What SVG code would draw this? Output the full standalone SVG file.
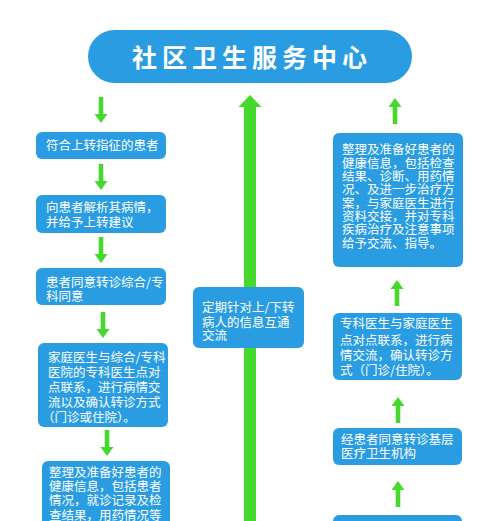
<svg xmlns="http://www.w3.org/2000/svg" width="500" height="521" viewBox="0 0 500 521">
<style>
.box{fill:#2a9de2}
.t{fill:#fff;font-family:"Noto Sans CJK SC","Noto Sans",sans-serif;font-size:12.5px}
.ttl{fill:#fff;font-family:"Noto Sans CJK SC","Noto Sans",sans-serif;font-size:25px;font-weight:bold;letter-spacing:5px}
.ar{fill:#45d92e}
</style>
<defs>
<path id="up" d="M0,0 L6.5,9 L2.3,9 L2.3,26 L-2.3,26 L-2.3,9 L-6.5,9 Z"/>
</defs>
<rect width="500" height="521" fill="#fff"/>
<g id="connectors" class="ar">
<use href="#up" transform="translate(101,123) rotate(180)"/>
<use href="#up" transform="translate(101,190) rotate(180)"/>
<use href="#up" transform="translate(101,263) rotate(180)"/>
<use href="#up" transform="translate(103,338) rotate(180)"/>
<use href="#up" transform="translate(107,456) rotate(180)"/>
<use href="#up" transform="translate(395,98)"/>
<use href="#up" transform="translate(397,280)"/>
<use href="#up" transform="translate(398,397)"/>
<use href="#up" transform="translate(398,481)"/>
<path d="M250,95 L261.5,107 L256,107 L256,521 L244,521 L244,107 L238.5,107 Z"/>
</g>
<g id="title">
<rect class="box" x="88" y="30" width="324" height="53" rx="26.5" fill="#2d9fe6"/>
<text class="ttl" x="252" y="67" text-anchor="middle">社区卫生服务中心</text>
</g>
<g id="l1">
<rect class="box" x="36" y="132" width="130" height="27" rx="6"/>
<text class="t" x="46" y="150">符合上转指征的患者</text>
</g>
<g id="l2">
<rect class="box" x="36" y="195" width="130" height="38" rx="6"/>
<text class="t" x="46" y="212">向患者解析其病情，</text>
<text class="t" x="46" y="227">并给予上转建议</text>
</g>
<g id="l3">
<rect class="box" x="36" y="268" width="130" height="37" rx="6"/>
<text class="t" x="46" y="287">患者同意转诊综合/专</text>
<text class="t" x="46" y="301">科同意</text>
</g>
<g id="l4">
<rect class="box" x="38" y="343" width="130" height="84" rx="6"/>
<text class="t" x="48" y="362">家庭医生与综合/专科</text>
<text class="t" x="48" y="377">医院的专科医生点对</text>
<text class="t" x="48" y="392">点联系，进行病情交</text>
<text class="t" x="48" y="407">流以及确认转诊方式</text>
<text class="t" x="42" y="422">（门诊或住院）。</text>
</g>
<g id="l5">
<rect class="box" x="42" y="461" width="128" height="70" rx="6"/>
<text class="t" x="49" y="477">整理及准备好患者的</text>
<text class="t" x="49" y="491">健康信息，包括患者</text>
<text class="t" x="49" y="505">情况，就诊记录及检</text>
<text class="t" x="49" y="520">查结果，用药情况等</text>
</g>
<g id="center">
<rect class="box" x="193" y="287" width="111" height="61" rx="6"/>
<text class="t" x="202" y="312">定期针对上/下转</text>
<text class="t" x="202" y="327">病人的信息互通</text>
<text class="t" x="202" y="340">交流</text>
</g>
<g id="r1">
<rect class="box" x="333" y="133" width="130" height="134" rx="6"/>
<text class="t" x="342" y="154">整理及准备好患者的</text>
<text class="t" x="342" y="168">健康信息，包括检查</text>
<text class="t" x="342" y="181">结果、诊断、用药情</text>
<text class="t" x="342" y="194">况、及进一步治疗方</text>
<text class="t" x="342" y="208">案，与家庭医生进行</text>
<text class="t" x="342" y="221">资料交接，并对专科</text>
<text class="t" x="342" y="234">疾病治疗及注意事项</text>
<text class="t" x="342" y="248">给予交流、指导。</text>
</g>
<g id="r2">
<rect class="box" x="333" y="313" width="129" height="67" rx="6"/>
<text class="t" x="340" y="328">专科医生与家庭医生</text>
<text class="t" x="340" y="345">点对点联系，进行病</text>
<text class="t" x="340" y="360">情交流，确认转诊方</text>
<text class="t" x="340" y="375">式（门诊/住院）。</text>
</g>
<g id="r3">
<rect class="box" x="333" y="428" width="129" height="37" rx="6"/>
<text class="t" x="341" y="444">经患者同意转诊基层</text>
<text class="t" x="341" y="458">医疗卫生机构</text>
</g>
<g id="r4">
<rect class="box" x="333" y="515" width="129" height="20" rx="6"/>
</g>
</svg>
